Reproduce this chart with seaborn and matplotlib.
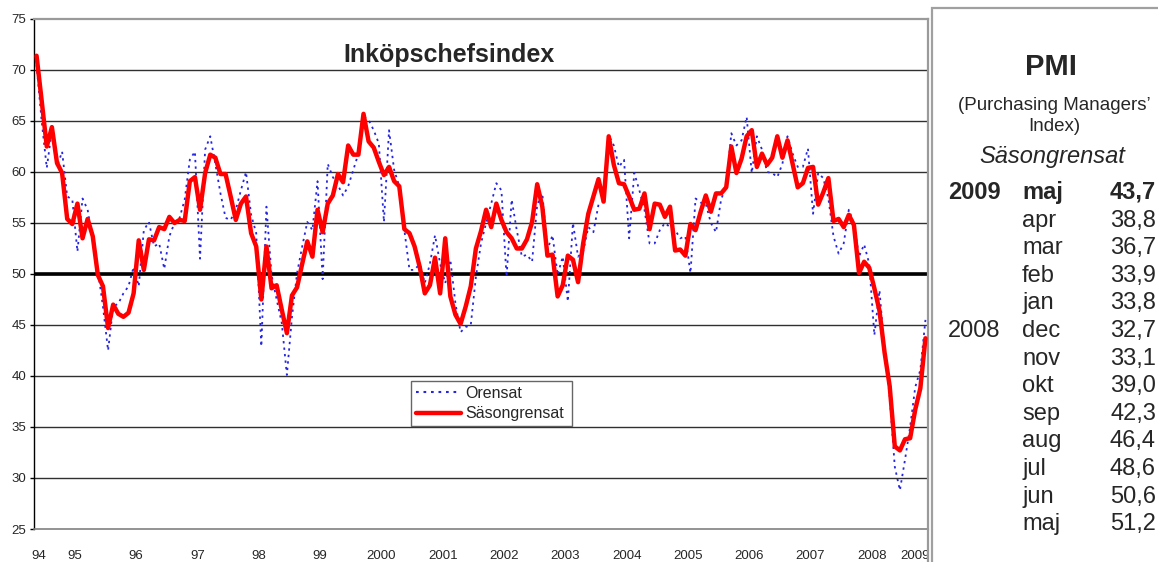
import numpy as np
import pandas as pd
import matplotlib
matplotlib.use("Agg")
import matplotlib.pyplot as plt
import seaborn as sns
from matplotlib.patches import Rectangle
from matplotlib.lines import Line2D

# Monthly PMI, Nov 1994 .. May 2009
sa = [71.4, 67.0, 62.5, 64.4, 60.9, 59.9, 55.4, 54.9, 56.9, 53.5, 55.4, 53.7,
      49.9, 48.8, 44.7, 47.0, 46.1, 45.8, 46.2, 48.1, 53.3, 50.4, 53.4, 53.3,
      54.6, 54.4, 55.6, 55.0, 55.3, 55.2, 59.1, 59.5, 56.3, 59.9, 61.7, 61.4,
      59.8, 59.8, 57.6, 55.3, 56.9, 57.6, 54.0, 52.7, 47.5, 52.7, 48.6, 48.9,
      46.5, 44.2, 47.9, 48.7, 51.0, 53.2, 51.7, 56.3, 54.1, 56.9, 57.7, 59.8,
      59.0, 62.6, 61.7, 61.7, 65.7, 63.0, 62.4, 61.0, 59.7, 60.5, 59.1, 58.6,
      54.4, 54.0, 52.7, 50.7, 48.1, 48.9, 51.6, 48.1, 53.5, 47.8, 46.0, 45.1,
      46.8, 48.8, 52.5, 54.2, 56.3, 54.6, 56.9, 55.3, 54.1, 53.5, 52.5, 52.5,
      53.4, 55.1, 58.8, 56.6, 51.8, 51.9, 47.8, 48.9, 51.8, 51.4, 49.2, 53.0,
      55.9, 57.6, 59.3, 57.1, 63.5, 60.7, 58.9, 58.8, 57.6, 56.3, 56.4, 57.9,
      54.4, 56.9, 56.8, 55.6, 56.6, 52.3, 52.4, 51.8, 54.9, 54.3, 56.1, 57.7,
      56.1, 57.9, 57.9, 58.5, 62.5, 59.9, 61.3, 63.5, 64.1, 60.5, 61.8, 60.7,
      61.4, 63.5, 61.4, 63.1, 60.8, 58.5, 58.9, 60.4, 60.5, 56.8, 58.0, 59.4,
      55.2, 55.4, 54.6, 55.8, 54.8, 50.1, 51.2, 50.6, 48.6, 46.4, 42.3, 39.0,
      33.1, 32.7, 33.8, 33.9, 36.7, 38.8, 43.7]

nsa = [70.5, 65.0, 60.4, 64.1, 60.5, 62.0, 57.6, 57.3, 52.2, 57.4, 56.3, 53.3,
       50.4, 46.8, 42.5, 46.8, 47.1, 48.1, 48.8, 50.7, 48.8, 54.3, 55.1, 52.7,
       53.0, 50.5, 53.7, 55.0, 55.5, 57.3, 61.2, 62.0, 51.5, 62.2, 63.5, 60.8,
       57.9, 55.5, 55.3, 56.3, 58.2, 60.0, 55.8, 54.0, 42.9, 56.6, 49.9, 47.5,
       45.2, 40.1, 45.8, 50.1, 52.7, 55.1, 54.3, 59.1, 49.5, 60.8, 59.5, 58.7,
       57.7, 58.6, 60.2, 61.8, 65.4, 65.1, 64.1, 62.8, 55.1, 64.1, 60.2, 58.6,
       54.3, 50.4, 50.4, 51.0, 49.1, 51.0, 53.8, 51.0, 49.1, 51.4, 47.1, 44.3,
       44.8, 45.0, 49.7, 53.0, 55.0, 56.9, 58.9, 58.2, 49.7, 57.3, 54.3, 51.7,
       51.9, 51.2, 56.8, 57.9, 52.4, 53.8, 49.9, 51.7, 47.3, 55.0, 51.7, 52.2,
       54.6, 54.1, 56.8, 57.1, 63.6, 62.6, 60.5, 61.2, 53.5, 59.9, 58.2, 56.3,
       53.0, 53.0, 54.3, 55.0, 54.6, 54.3, 53.5, 53.7, 50.1, 57.4, 57.0, 56.9,
       55.0, 54.1, 57.3, 58.6, 63.8, 62.6, 63.1, 65.4, 59.9, 63.5, 62.2, 60.0,
       59.9, 59.5, 60.8, 63.5, 61.8, 60.5, 60.5, 62.3, 55.9, 59.9, 59.4, 57.4,
       53.7, 52.0, 53.0, 56.3, 55.0, 51.7, 52.9, 51.0, 44.0, 48.4, 42.5, 38.0,
       31.1, 28.8, 31.8, 35.0, 38.9, 40.6, 45.5]

year_labels = ["94", "95", "96", "97", "98", "99", "2000", "2001", "2002",
               "2003", "2004", "2005", "2006", "2007", "2008", "2009"]

table_years = ["2009", "", "", "", "", "2008", "", "", "", "", "", "", ""]
table_months = ["maj", "apr", "mar", "feb", "jan", "dec", "nov", "okt",
                "sep", "aug", "jul", "jun", "maj"]
table_values = ["43,7", "38,8", "36,7", "33,9", "33,8", "32,7", "33,1",
                "39,0", "42,3", "46,4", "48,6", "50,6", "51,2"]

sns.set_style("white")
plt.rcParams["font.family"] = ["Liberation Sans", "DejaVu Sans"]

n = len(sa)
df = pd.DataFrame({"m": np.arange(n), "Orensat": nsa, "Säsongrensat": sa})

W, H = 1158, 562
fig = plt.figure(figsize=(W / 100, H / 100), dpi=100)
fig.patch.set_facecolor("white")
ax = fig.add_axes([34 / W, 1 - 529 / H, 894 / W, 510 / H])

for v in range(30, 75, 5):
    ax.axhline(v, color="#303030", lw=1.0, zorder=1)
ax.axhline(50, color="black", lw=2.6, zorder=2)

sns.lineplot(data=df, x="m", y="Orensat", ax=ax, color="#2626e0", lw=1.3,
             zorder=3, legend=False)
ax.lines[-1].set_dashes((1.3, 2.3))
sns.lineplot(data=df, x="m", y="Säsongrensat", ax=ax, color="#ff0000",
             lw=3.2, zorder=4, legend=False)

ax.set_xlim(-0.5, n - 0.5)
ax.set_ylim(25, 75)
ax.set_xlabel("")
ax.set_ylabel("")

# year boundaries and labels
first_jan = 2
bounds = [first_jan - 0.5 + 12 * k for k in range(15)]
centers = [(-0.5 + bounds[0]) / 2] + [(bounds[k] + bounds[k + 1]) / 2 for k in range(14)] \
          + [(bounds[-1] + n - 0.5) / 2]
ax.set_xticks(bounds)
ax.set_xticklabels([""] * len(bounds))
ax.set_xticks(centers, minor=True)
ax.set_xticklabels(year_labels, minor=True, fontsize=9.5)
ax.tick_params(axis="x", which="major", length=24, width=1.0, color="#333333",
               direction="out")
ax.tick_params(axis="x", which="minor", length=0, pad=15, labelsize=9.5)

ax.set_yticks(list(range(25, 80, 5)))
ax.set_yticklabels([str(v) for v in range(25, 80, 5)], fontsize=9.5)
ax.tick_params(axis="y", length=3, width=1, color="black", pad=2.5, left=True)

for s in ["top", "right"]:
    ax.spines[s].set_color("#9a9a9a")
    ax.spines[s].set_linewidth(1.6)
ax.spines["left"].set_color("black")
ax.spines["left"].set_linewidth(1.0)
ax.spines["bottom"].set_color("#808080")
ax.spines["bottom"].set_linewidth(1.2)

# outer border continues below the plot on the right
fig.add_artist(Line2D([928 / W, 928 / W], [0, 1 - 529 / H],
                      transform=fig.transFigure, color="#9a9a9a", lw=1.6))

ax.text(0.464, 0.916, "Inköpschefsindex", transform=ax.transAxes, ha="center",
        va="baseline", fontsize=18, fontweight="bold")

handles = [Line2D([], [], color="#2626e0", lw=1.5, dashes=(1.3, 2.3)),
           Line2D([], [], color="#ff0000", lw=3.2)]
leg = ax.legend(handles, ["Orensat", "Säsongrensat"], loc="lower left",
                bbox_to_anchor=((411 - 34) / 894, (529 - 426) / 510,
                                161 / 894, 47 / 510),
                mode="expand", borderaxespad=0, fontsize=11.5, frameon=True,
                fancybox=False, handlelength=2.8, handletextpad=0.3,
                borderpad=0.3, labelspacing=0.35)
leg.get_frame().set_edgecolor("#404040")
leg.get_frame().set_linewidth(1.0)

# right-hand panel
fig.add_artist(Rectangle((931.7 / W, -0.1), 1.0, 1.1 - 8.3 / H,
                         transform=fig.transFigure, fill=False,
                         edgecolor="#a0a0a0", lw=1.6))


def ftext(x, y, s, **kw):
    fig.text(x / W, 1 - y / H, s, va="baseline", **kw)


ftext(1051, 75, "PMI", ha="center", fontsize=21, fontweight="bold")
ftext(1054, 110, "(Purchasing Managers\u2019", ha="center", fontsize=13.5)
ftext(1054, 131, "Index)", ha="center", fontsize=13.5)
ftext(1052, 163, "Säsongrensat", ha="center", fontsize=17, style="italic")

for k, (yr, mo, val) in enumerate(zip(table_years, table_months, table_values)):
    yb = 199 + 27.6 * k
    bold = "bold" if k == 0 else "normal"
    if yr:
        ftext(948, yb, yr, ha="left", fontsize=17, fontweight=bold)
    ftext(1022, yb, mo, ha="left", fontsize=17, fontweight=bold)
    ftext(1156, yb, val, ha="right", fontsize=17, fontweight=bold)

fig.savefig("out.png", dpi=100, facecolor="white")
